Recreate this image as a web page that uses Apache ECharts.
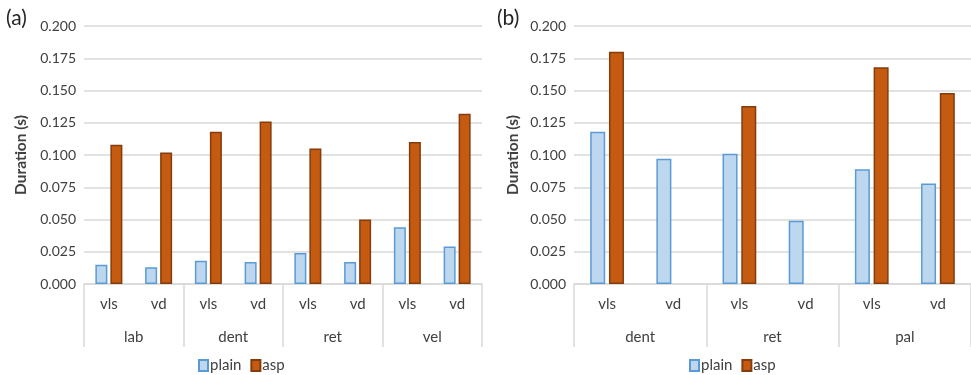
<!DOCTYPE html>
<html>
<head>
<meta charset="utf-8">
<script src="https://cdn.jsdelivr.net/npm/echarts@6/dist/echarts.min.js"></script>
<style>
  html, body { margin: 0; padding: 0; background: #fff; }
  #chart { width: 971px; height: 375px; }
</style>
</head>
<body>
<div id="chart"></div>
<script>
// Panel (a): four places of articulation, each split into vls / vd
const placesA = ['lab', 'dent', 'ret', 'vel'];
const subCatsA = ['vls', 'vd', 'vls', 'vd', 'vls', 'vd', 'vls', 'vd'];
const plainA = [0.015, 0.013, 0.018, 0.017, 0.024, 0.017, 0.044, 0.029];
const aspA = [0.108, 0.102, 0.118, 0.126, 0.105, 0.050, 0.110, 0.132];

// Panel (b): three places of articulation; no aspirated vd tokens for dent and ret
const placesB = ['dent', 'ret', 'pal'];
const subCatsB = ['vls', 'vd', 'vls', 'vd', 'vls', 'vd'];
const plainB = [0.118, 0.097, 0.101, 0.049, 0.089, 0.078];
const aspB = [0.180, null, 0.138, null, 0.168, 0.148];

const yTicks = { min: 0, max: 0.2, interval: 0.025 };

const FONT = 'Lato, "Noto Sans", sans-serif';
const TEXT = '#404040';
const GRID_LINE = '#d9d9d9';

const plainStyle = { color: '#bdd7ee', borderColor: '#5b9bd5', borderWidth: 1.5 };
const aspStyle = { color: '#c55a11', borderColor: '#843c0c', borderWidth: 1.5 };

function yAxis(gridIndex, nameGap) {
  return {
    type: 'value', gridIndex,
    min: yTicks.min, max: yTicks.max, interval: yTicks.interval,
    name: 'Duration (s)', nameLocation: 'middle', nameRotate: 90, nameGap,
    nameTextStyle: { fontFamily: FONT, fontSize: 15.5, fontWeight: 'bold', color: TEXT },
    axisLine: { show: false }, axisTick: { show: false },
    axisLabel: { fontFamily: FONT, fontSize: 14, color: TEXT, margin: 8,
      formatter: v => v.toFixed(3) },
    splitLine: { lineStyle: { color: GRID_LINE, width: 1.5 } }
  };
}

function subAxis(gridIndex, cats) {
  return {
    type: 'category', gridIndex, data: cats, position: 'bottom',
    axisLine: { show: true, lineStyle: { color: GRID_LINE, width: 1.5 } },
    axisTick: { show: false },
    axisLabel: { fontFamily: FONT, fontSize: 15, color: TEXT, margin: 13, interval: 0 },
    splitLine: { show: false }
  };
}

function groupAxis(gridIndex, cats) {
  return {
    type: 'category', gridIndex, data: cats, position: 'bottom',
    axisLine: { show: false },
    axisTick: { show: true, length: 63, lineStyle: { color: GRID_LINE, width: 1.5 } },
    axisLabel: { fontFamily: FONT, fontSize: 15, color: TEXT, margin: 46, interval: 0 },
    splitLine: { show: false }
  };
}

function legend(left) {
  return {
    data: ['plain', 'asp'],
    left, top: 358, padding: 0,
    icon: 'rect', itemWidth: 9, itemHeight: 11, itemGap: 9,
    textStyle: { fontFamily: FONT, fontSize: 15, color: TEXT, padding: [0, 0, 0, -3] },
    selectedMode: false
  };
}

const chart = echarts.init(document.getElementById('chart'), null, { renderer: 'canvas' });

chart.setOption({
  animation: false,
  backgroundColor: '#ffffff',
  title: [
    { text: '(a)', left: 6, top: 8, padding: 0, textStyle: { fontFamily: FONT, fontSize: 21, fontWeight: 'normal', color: '#262626' } },
    { text: '(b)', left: 497, top: 8, padding: 0, textStyle: { fontFamily: FONT, fontSize: 21, fontWeight: 'normal', color: '#262626' } }
  ],
  legend: [legend(198), legend(689)],
  grid: [
    { left: 84, top: 26, width: 398, height: 258 },
    { left: 574, top: 26, width: 400, height: 258 }
  ],
  xAxis: [
    subAxis(0, subCatsA), groupAxis(0, placesA),
    subAxis(1, subCatsB), groupAxis(1, placesB)
  ],
  yAxis: [yAxis(0, 55), yAxis(1, 53)],
  series: [
    { name: 'plain', type: 'bar', xAxisIndex: 0, yAxisIndex: 0, data: plainA,
      barWidth: 12, barGap: '25%', itemStyle: plainStyle },
    { name: 'asp', type: 'bar', xAxisIndex: 0, yAxisIndex: 0, data: aspA,
      barWidth: 12, barGap: '25%', itemStyle: aspStyle },
    { name: 'plain', type: 'bar', xAxisIndex: 2, yAxisIndex: 1, data: plainB,
      barWidth: 15, barGap: '25%', itemStyle: plainStyle },
    { name: 'asp', type: 'bar', xAxisIndex: 2, yAxisIndex: 1, data: aspB,
      barWidth: 15, barGap: '25%', itemStyle: aspStyle }
  ]
});
</script>
</body>
</html>
